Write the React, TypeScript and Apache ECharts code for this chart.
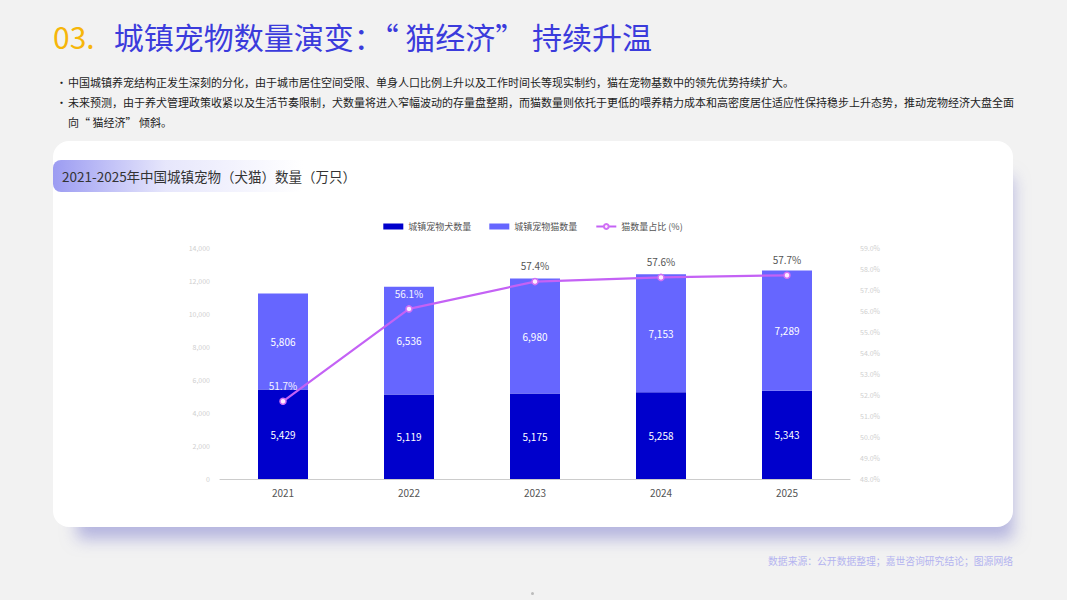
import React, { useEffect, useRef } from "react";
import * as echarts from "echarts";

const years = ["2021", "2022", "2023", "2024", "2025"];
const dogCounts = [5429, 5119, 5175, 5258, 5343];
const catCounts = [5806, 6536, 6980, 7153, 7289];
const catShare = [51.7, 56.1, 57.4, 57.6, 57.7];
const seriesNames = ["城镇宠物犬数量", "城镇宠物猫数量", "猫数量占比 (%)"];

const FONT = '"Noto Sans CJK SC", "Noto Sans", sans-serif';

function Chart() {
  const ref = useRef<HTMLDivElement>(null);
  useEffect(() => {
    if (!ref.current) return;
    const chart = echarts.init(ref.current, undefined, { renderer: "svg" });
    const barLabel = {
      show: true,
      position: "inside",
      color: "#fff",
      fontSize: 10,
      formatter: (p: any) => Number(p.value).toLocaleString("en-US"),
    };
    chart.setOption({
      animation: false,
      textStyle: { fontFamily: FONT },
      legend: {
        top: 76,
        left: "center",
        itemWidth: 20,
        itemHeight: 6,
        itemGap: 18,
        textStyle: { fontSize: 9, color: "#555" },
        data: [
          { name: seriesNames[0], icon: "rect" },
          { name: seriesNames[1], icon: "rect" },
          { name: seriesNames[2] },
        ],
      },
      grid: { left: 167, right: 163, top: 107, bottom: 48 },
      xAxis: {
        type: "category",
        data: years,
        axisTick: { show: false },
        axisLine: { lineStyle: { color: "#cccccc" } },
        axisLabel: { color: "#555", fontSize: 10, margin: 8 },
      },
      yAxis: [
        {
          type: "value",
          min: 0,
          max: 14000,
          interval: 2000,
          splitLine: { show: false },
          axisLabel: {
            color: "#cfcfcf",
            fontSize: 7,
            margin: 10,
            formatter: (v: number) => v.toLocaleString("en-US"),
          },
        },
        {
          type: "value",
          min: 48,
          max: 59,
          interval: 1,
          splitLine: { show: false },
          axisLabel: {
            color: "#cfcfcf",
            fontSize: 7,
            margin: 10,
            formatter: (v: number) => v.toFixed(1) + "%",
          },
        },
      ],
      series: [
        {
          name: seriesNames[0],
          type: "bar",
          stack: "pets",
          barWidth: 50,
          data: dogCounts,
          itemStyle: { color: "#0000cc" },
          label: barLabel,
        },
        {
          name: seriesNames[1],
          type: "bar",
          stack: "pets",
          barWidth: 50,
          data: catCounts,
          itemStyle: { color: "#6666ff" },
          label: barLabel,
        },
        {
          name: seriesNames[2],
          type: "line",
          yAxisIndex: 1,
          data: catShare.map((v, i) => ({
            value: v,
            label: { color: i < 2 ? "#f4f4ff" : "#555" },
          })),
          symbol: "circle",
          symbolSize: 6,
          lineStyle: { color: "#c462f5", width: 2.2 },
          itemStyle: { color: "#ffeaff", borderColor: "#d070f5", borderWidth: 1.5 },
          label: {
            show: true,
            position: "top",
            distance: 7,
            fontSize: 10,
            formatter: (p: any) => Number(p.value).toFixed(1) + "%",
          },
          z: 5,
        },
      ],
    });
    return () => chart.dispose();
  }, []);
  return <div ref={ref} style={{ position: "absolute", left: 0, top: 0, width: 960, height: 386 }} />;
}

export default function App() {
  useEffect(() => {
    document.body.style.margin = "0";
  }, []);
  const bullet: React.CSSProperties = {
    position: "relative",
    paddingLeft: 15,
    fontSize: 11,
    lineHeight: "20px",
    color: "#222",
  };
  const dot: React.CSSProperties = { position: "absolute", left: 3, top: 0 };
  return (
    <div
      style={{
        position: "fixed",
        left: 0,
        top: 0,
        width: 1067,
        height: 600,
        background: "#f2f2f2",
        fontFamily: FONT,
        overflow: "hidden",
      }}
    >
      <div style={{ position: "absolute", left: 53, top: 14, fontSize: 30, lineHeight: "44px", whiteSpace: "nowrap" }}>
        <span style={{ color: "#f6b60a", marginRight: 19 }}>03.</span>
        <span style={{ color: "#3b3bdc" }}>城镇宠物数量演变：“ 猫经济” 持续升温</span>
      </div>
      <div style={{ position: "absolute", left: 53, top: 72, width: 966 }}>
        <div style={bullet}>
          <span style={dot}>•</span>
          中国城镇养宠结构正发生深刻的分化，由于城市居住空间受限、单身人口比例上升以及工作时间长等现实制约，猫在宠物基数中的领先优势持续扩大。
        </div>
        <div style={bullet}>
          <span style={dot}>•</span>
          未来预测，由于养犬管理政策收紧以及生活节奏限制，犬数量将进入窄幅波动的存量盘整期，而猫数量则依托于更低的喂养精力成本和高密度居住适应性保持稳步上升态势，推动宠物经济大盘全面向“ 猫经济” 倾斜。
        </div>
      </div>
      <div
        style={{
          position: "absolute",
          left: 53,
          top: 141,
          width: 960,
          height: 386,
          background: "#fff",
          borderRadius: 16,
          boxShadow: "12px 24px 16px -12px rgba(140,140,210,0.6)",
        }}
      >
        <div
          style={{
            position: "absolute",
            left: 0,
            top: 19,
            width: 250,
            height: 32,
            borderRadius: "8px 0 0 8px",
            background: "linear-gradient(90deg, #9c9cf2 0%, rgba(220,220,250,0.7) 45%, rgba(255,255,255,0) 100%)",
          }}
        />
        <div style={{ position: "absolute", left: 9, top: 19, lineHeight: "32px", fontSize: 13.5, color: "#333", whiteSpace: "nowrap" }}>
          2021-2025年中国城镇宠物（犬猫）数量（万只）
        </div>
        <Chart />
      </div>
      <div style={{ position: "absolute", right: 54, top: 554, fontSize: 9.8, color: "#b4b4f0", whiteSpace: "nowrap" }}>
        数据来源：公开数据整理；嘉世咨询研究结论；图源网络
      </div>
      <div style={{ position: "absolute", left: 531, top: 592, width: 3, height: 3, borderRadius: 2, background: "#bbb" }} />
    </div>
  );
}
